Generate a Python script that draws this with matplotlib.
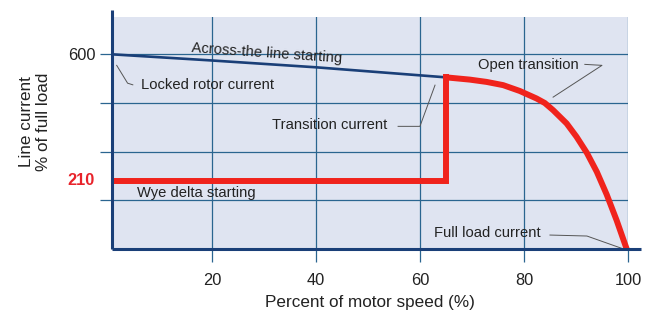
import matplotlib
matplotlib.use("Agg")
import matplotlib.pyplot as plt
from matplotlib.lines import Line2D

plt.rcParams['font.family'] = ['Liberation Sans', 'DejaVu Sans']

# ---- data ----
x_ticks = [20, 40, 60, 80, 100]
y_grid = [150, 300, 450, 600]
y_label_600 = 600
wye_level = 210

across_x = [0.8, 20, 40, 65]
across_y = [600, 581, 560, 529]

wye_x = [0.8, 65, 65]
wye_y = [210, 210, 529]

open_x = [65, 69.6, 72.8, 76.0, 79.2, 82.4, 84.0, 85.6, 88.2, 90.1, 92.1, 94.0, 95.9, 97.8, 99.75]
open_y = [529, 522, 515, 505, 487, 464, 450, 428, 387, 346, 296, 238, 168, 89, 0]

# ---- figure ----
fig = plt.figure(figsize=(6.53, 3.18), dpi=100)
ax = fig.add_axes([112/653, 1-249/318, (628-112)/653, (249-17)/318])
ax.set_xlim(0.8, 100)
ax.set_ylim(0, 715)
ax.set_facecolor('#dfe4f1')
for s in ax.spines.values():
    s.set_visible(False)

grid_c = '#2a6590'
ax.set_xticks(x_ticks)
ax.set_yticks(y_grid)
ax.set_yticklabels(['' if v != y_label_600 else str(v) for v in y_grid])
ax.grid(True, color=grid_c, linewidth=0.9)
ax.tick_params(axis='both', color=grid_c, length=9, width=0.9,
               labelsize=11.8, labelcolor='#222222')
ax.tick_params(axis='x', pad=8)
ax.tick_params(axis='y', pad=3)

# spines drawn as lines extending slightly beyond the area
navy = '#1a3f78'
ax.add_line(Line2D([0, 0], [0, 1.03], transform=ax.transAxes, color=navy,
                   lw=2.2, clip_on=False, solid_capstyle='butt', zorder=5))
ax.add_line(Line2D([0, 1.025], [0, 0], transform=ax.transAxes, color=navy,
                   lw=2.2, clip_on=False, solid_capstyle='butt', zorder=5))

# across-the-line
ax.plot(across_x, across_y, color=navy, lw=1.9, solid_capstyle='butt', zorder=3)

# wye delta starting + transition (sharp corners)
red = '#f0231c'
ax.plot(wye_x, wye_y, color=red, lw=4.3, solid_joinstyle='miter',
        solid_capstyle='projecting', zorder=4)
# open transition curve (smooth)
ax.plot(open_x, open_y, color=red, lw=4.3, solid_joinstyle='round',
        solid_capstyle='butt', zorder=4, clip_on=False)

# 210 label
ax.text(-2.5, wye_level, str(wye_level), color='#e8232b', fontsize=11.8,
        fontweight='bold', ha='right', va='center', clip_on=False)

# annotations
tc = '#222222'
lc = '#555555'
fs = 10.6
ax.text(30.5, 604, 'Across-the line starting', fontsize=fs, color=tc,
        ha='center', va='center', rotation=-4, rotation_mode='anchor')
ax.text(6.4, 506, 'Locked rotor current', fontsize=fs, color=tc, ha='left', va='center')
ax.plot([1.7, 3.8, 4.8], [566, 511, 506], color=lc, lw=0.7)
ax.text(31.6, 381, 'Transition current', fontsize=fs, color=tc, ha='left', va='center')
ax.plot([55.8, 60, 62.9], [378, 378, 505], color=lc, lw=0.7)
ax.text(71.2, 568, 'Open transition', fontsize=fs, color=tc, ha='left', va='center')
ax.plot([91.7, 95, 85.6], [569, 566, 468], color=lc, lw=0.7)
ax.text(5.6, 172, 'Wye delta starting', fontsize=fs, color=tc, ha='left', va='center')
ax.text(62.7, 49, 'Full load current', fontsize=fs, color=tc, ha='left', va='center')
ax.plot([85, 92.1, 98.8], [43, 40, 2], color=lc, lw=0.7)

ax.set_xlabel('Percent of motor speed (%)', fontsize=12.3, color=tc, labelpad=5)
fig.text(35/653, 1-122/318, 'Line current\n% of full load', rotation=90,
         fontsize=12.3, color=tc, ha='center', va='center', linespacing=1.2)

fig.savefig('out.png', dpi=100)
